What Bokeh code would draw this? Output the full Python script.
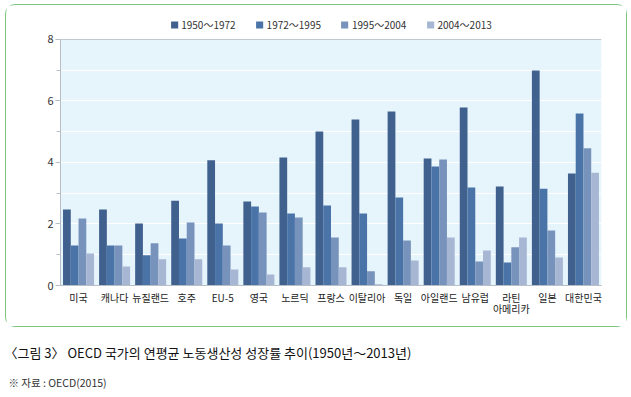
from bokeh.plotting import figure
from bokeh.layouts import column
from bokeh.models import FactorRange, Legend, LegendItem, Label, BoxAnnotation, Span, ColumnDataSource
from bokeh.transform import dodge
from bokeh.embed import file_html
from bokeh.resources import INLINE

categories = ["미국", "캐나다", "뉴질랜드", "호주", "EU-5", "영국", "노르딕", "프랑스",
              "이탈리아", "독일", "아일랜드", "남유럽", "라틴\n아메리카", "일본", "대한민국"]
series_names = ["1950～1972", "1972～1995", "1995～2004", "2004～2013"]
s1950_1972 = [2.47, 2.47, 2.02, 2.76, 4.07, 2.73, 4.16, 5.01, 5.40, 5.66, 4.13, 5.79, 3.22, 6.99, 3.64]
s1972_1995 = [1.30, 1.30, 0.98, 1.53, 2.02, 2.57, 2.34, 2.60, 2.34, 2.86, 3.87, 3.19, 0.75, 3.15, 5.59]
s1995_2004 = [2.18, 1.30, 1.37, 2.05, 1.30, 2.37, 2.21, 1.56, 0.46, 1.46, 4.10, 0.78, 1.24, 1.79, 4.46]
s2004_2013 = [1.04, 0.62, 0.85, 0.85, 0.52, 0.36, 0.59, 0.59, 0.04, 0.81, 1.56, 1.14, 1.56, 0.91, 3.67]
colors = ["#40608e", "#4a74a8", "#7893bb", "#a7b7d3"]
caption = "〈그림 3〉 OECD 국가의 연평균 노동생산성 성장률 추이(1950년～2013년)"
source_note = "※ 자료 : OECD(2015)"

FONT = "Noto Sans CJK KR"

src = ColumnDataSource(dict(cat=categories, a=s1950_1972, b=s1972_1995, c=s1995_2004, d=s2004_2013))

W1, H1 = 622, 323
p = figure(width=W1, height=H1, x_range=FactorRange(*categories), y_range=(0, 8.78),
           output_backend="svg", toolbar_location=None,
           min_border_left=54, min_border_right=27, min_border_top=10, min_border_bottom=43)
p.frame_align = False
p.margin = (4, 0, 0, 5)
p.styles = {"border": "1.5px solid #7cc67f", "border-radius": "10px", "box-sizing": "border-box"}
p.background_fill_color = "white"
p.border_fill_color = "white"
p.outline_line_color = None

p.add_layout(BoxAnnotation(bottom=0, top=8, fill_color="#e6f4fc", fill_alpha=1,
                           line_color=None, level="image"))

bw = 0.215
offs = [-1.5 * bw, -0.5 * bw, 0.5 * bw, 1.5 * bw]
renderers = []
for key, off, col in zip(["a", "b", "c", "d"], offs, colors):
    r = p.vbar(x=dodge("cat", off, range=p.x_range), top=key, width=bw, source=src,
               fill_color=col, line_color=None)
    renderers.append(r)

legend = Legend(items=[LegendItem(label=n, renderers=[r]) for n, r in zip(series_names, renderers)],
                orientation="horizontal", location="top_center", background_fill_alpha=0,
                border_line_color=None, glyph_width=9, glyph_height=9, label_standoff=3,
                spacing=19, padding=0, margin=2, label_text_font=FONT,
                label_text_font_size="10px", label_text_color="#333333")
p.add_layout(legend, "center")

p.xgrid.grid_line_color = None
p.ygrid.grid_line_color = "white"
p.ygrid.grid_line_width = 1
p.ygrid.minor_grid_line_color = "white"
p.yaxis.bounds = (0, 8)
p.yaxis.ticker.desired_num_ticks = 5
p.yaxis.ticker.num_minor_ticks = 2
p.yaxis.axis_line_color = "#b8bec6"
p.yaxis.major_tick_line_color = "#b8bec6"
p.yaxis.minor_tick_line_color = "#b8bec6"
p.yaxis.major_tick_out = 5
p.yaxis.major_tick_in = 0
p.yaxis.minor_tick_out = 4
p.yaxis.minor_tick_in = 0
p.yaxis.major_label_standoff = 2
p.yaxis.major_label_text_font = FONT
p.yaxis.major_label_text_font_size = "11px"
p.yaxis.major_label_text_color = "#333333"

p.xaxis.axis_line_color = "#b8bec6"
p.xaxis.major_tick_line_color = None
p.xaxis.major_label_text_font = FONT
p.xaxis.major_label_text_font_size = "10px"
p.xaxis.major_label_text_color = "#222222"
p.xaxis.major_label_text_line_height = 0.75
p.xaxis.major_label_standoff = -2

p.add_layout(Span(location=8, dimension="width", line_color="#c2c8d0", line_width=1))

# caption figure
W2, H2 = 631, 70
q = figure(frame_width=W2, frame_height=H2, x_range=(0, W2), y_range=(0, H2), output_backend="svg",
           toolbar_location=None, x_axis_location=None, y_axis_location=None,
           min_border=0, min_border_left=0, min_border_right=0, min_border_top=0, min_border_bottom=0)
q.frame_align = False
q.grid.grid_line_color = None
q.outline_line_color = None
q.background_fill_color = "white"
q.border_fill_color = "white"
q.add_layout(Label(x=4, y=H2 - 25, text=caption,
                   text_font=FONT, text_font_size="13px", text_color="#111111",
                   text_baseline="middle"))
q.add_layout(Label(x=8, y=H2 - 55, text=source_note,
                   text_font=FONT, text_font_size="10.5px", text_color="#333333",
                   text_baseline="middle"))

layout = column(p, q, spacing=0)
open("out.html", "w").write(file_html(layout, INLINE))
